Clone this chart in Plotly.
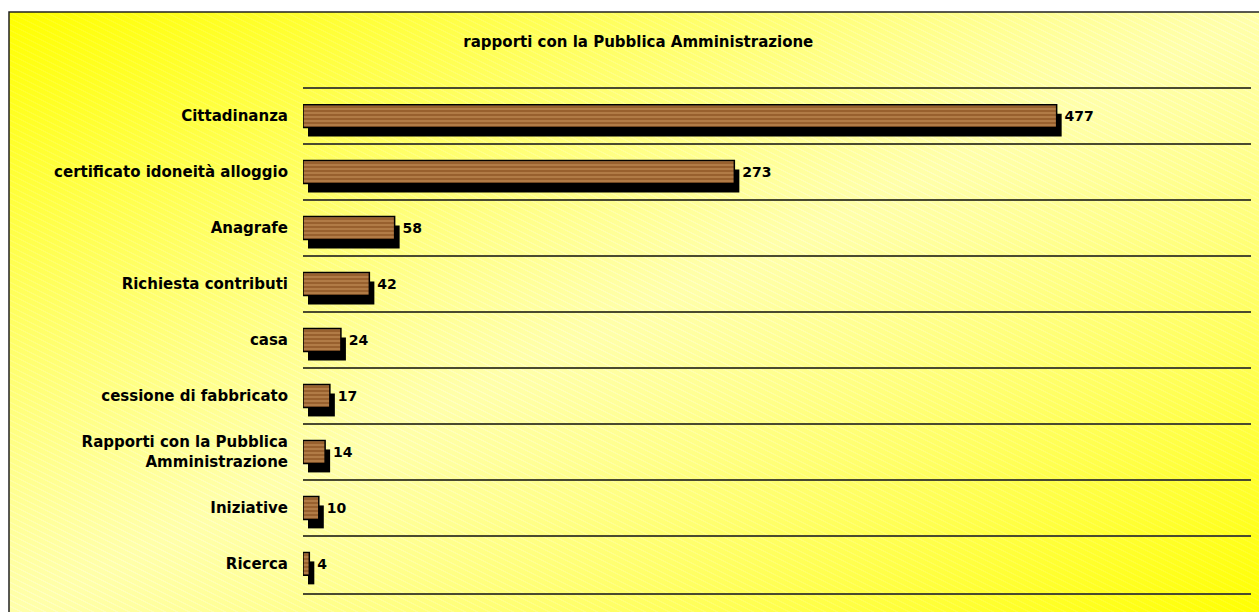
import base64
import struct
import zlib

import numpy as np
import plotly.graph_objects as go

# ---------------- data ----------------
categories = [
    "Cittadinanza",
    "certificato idoneità alloggio",
    "Anagrafe",
    "Richiesta contributi",
    "casa",
    "cessione di fabbricato",
    "Rapporti con la Pubblica<br>Amministrazione",
    "Iniziative",
    "Ricerca",
]
values = [477, 273, 58, 42, 24, 17, 14, 10, 4]
title_text = "rapporti con la Pubblica Amministrazione"

# ---------------- layout geometry ----------------
W, H = 1259, 612
ML, MR, MT, MB = 303, 8, 87, 19
PW, PH = W - ML - MR, H - MT - MB
X_MAX = 600
SHADOW_DX_PX, SHADOW_DY_PX = 5, 9
n = len(categories)
EPS = 0.02
span = n + 2 * EPS
dx = SHADOW_DX_PX * X_MAX / PW
dy = SHADOW_DY_PX * span / PH
GRID_COLOR = "#4a4a30"


# ---------------- background gradient image ----------------
def png_data_uri(arr):
    h, w, _ = arr.shape
    raw = b"".join(b"\x00" + arr[r].tobytes() for r in range(h))

    def chunk(tag, data):
        c = struct.pack(">I", len(data)) + tag + data
        return c + struct.pack(">I", zlib.crc32(tag + data) & 0xFFFFFFFF)

    png = b"\x89PNG\r\n\x1a\n"
    png += chunk(b"IHDR", struct.pack(">IIBBBBB", w, h, 8, 2, 0, 0, 0))
    png += chunk(b"IDAT", zlib.compress(raw, 9))
    png += chunk(b"IEND", b"")
    return "data:image/png;base64," + base64.b64encode(png).decode()


FX0, FY0 = 9, 12
FW, FH = W - FX0 + 2, H - FY0 + 2
yy, xx = np.mgrid[0:FH, 0:FW].astype(float)
u = xx / FW
v = yy / FH
d = np.clip(np.abs(u + v - 1.0), 0, 1)
blue = 170.0 * (1.0 - d ** 1.2)
stripe = ((xx * 0.5 - yy) % 6.0) < 1.2
blue = np.where(stripe, blue + 22.0, blue)
img = np.zeros((FH, FW, 3), dtype=np.uint8)
img[..., 0] = 255
img[..., 1] = 255
img[..., 2] = np.clip(blue, 0, 255).astype(np.uint8)
bg_uri = png_data_uri(img)

# ---------------- figure ----------------
FONT = "DejaVu Sans"

fig = go.Figure()

# shadows (base axes, shifted ranges)
fig.add_trace(
    go.Bar(
        x=values,
        y=categories,
        orientation="h",
        width=0.41,
        marker=dict(color="black", line=dict(width=0)),
        hoverinfo="skip",
        showlegend=False,
        xaxis="x",
        yaxis="y",
    )
)

# main wood-like bars (overlay axes)
fig.add_trace(
    go.Bar(
        x=values,
        y=categories,
        orientation="h",
        width=0.41,
        marker=dict(
            color="#98602E",
            line=dict(color="black", width=1.5),
            pattern=dict(
                shape="-",
                fgcolor="#B47E48",
                bgcolor="#98602E",
                size=4,
                solidity=0.45,
                fillmode="replace",
            ),
        ),
        text=[str(val) for val in values],
        texttemplate="\u00a0%{text}",
        textposition="outside",
        textfont=dict(family=FONT, size=14, color="black", weight="bold"),
        cliponaxis=False,
        showlegend=False,
        xaxis="x2",
        yaxis="y2",
    )
)

fig.update_layout(
    width=W,
    height=H,
    margin=dict(l=ML, r=MR, t=MT, b=MB, autoexpand=False),
    paper_bgcolor="white",
    plot_bgcolor="rgba(0,0,0,0)",
    font=dict(family=FONT, color="black"),
    title=dict(
        text=title_text,
        x=0.507,
        xref="container",
        xanchor="center",
        y=1 - 42 / H,
        yref="container",
        yanchor="middle",
        font=dict(family=FONT, size=15, color="black", weight="bold"),
    ),
    xaxis=dict(
        range=[-dx, X_MAX - dx],
        visible=False,
        showgrid=False,
        zeroline=False,
    ),
    yaxis=dict(
        type="category",
        categoryorder="array",
        categoryarray=categories,
        range=[n - 0.5 + EPS - dy, -0.5 - EPS - dy],
        visible=False,
        showgrid=False,
        zeroline=False,
    ),
    xaxis2=dict(
        overlaying="x",
        anchor="y2",
        side="bottom",
        range=[0, X_MAX],
        visible=True,
        showticklabels=False,
        ticks="",
        showgrid=False,
        zeroline=False,
        showline=True,
        linecolor=GRID_COLOR,
        linewidth=1.5,
    ),
    yaxis2=dict(
        overlaying="y",
        anchor="x2",
        side="left",
        type="category",
        categoryorder="array",
        categoryarray=categories,
        range=[n - 0.5 + EPS, -0.5 - EPS],
        tickson="boundaries",
        showgrid=True,
        gridcolor=GRID_COLOR,
        gridwidth=1.5,
        ticks="",
        ticklabelstandoff=14,
        tickfont=dict(family=FONT, size=15, color="black", weight="bold"),
        zeroline=False,
        showline=False,
    ),
    images=[
        dict(
            source=bg_uri,
            xref="paper",
            yref="paper",
            x=(FX0 - ML) / PW,
            y=(H - MB - FY0) / PH,
            sizex=FW / PW,
            sizey=FH / PH,
            sizing="stretch",
            xanchor="left",
            yanchor="top",
            layer="below",
        )
    ],
    shapes=[
        dict(
            type="rect",
            xref="paper",
            yref="paper",
            x0=(FX0 - ML) / PW,
            x1=(W + 3 - ML) / PW,
            y0=(H - MB - FY0) / PH,
            y1=-(MB + 3) / PH,
            line=dict(color="#222222", width=1.5),
            fillcolor="rgba(0,0,0,0)",
            layer="above",
        )
    ],
)

fig.write_html("out.html")
